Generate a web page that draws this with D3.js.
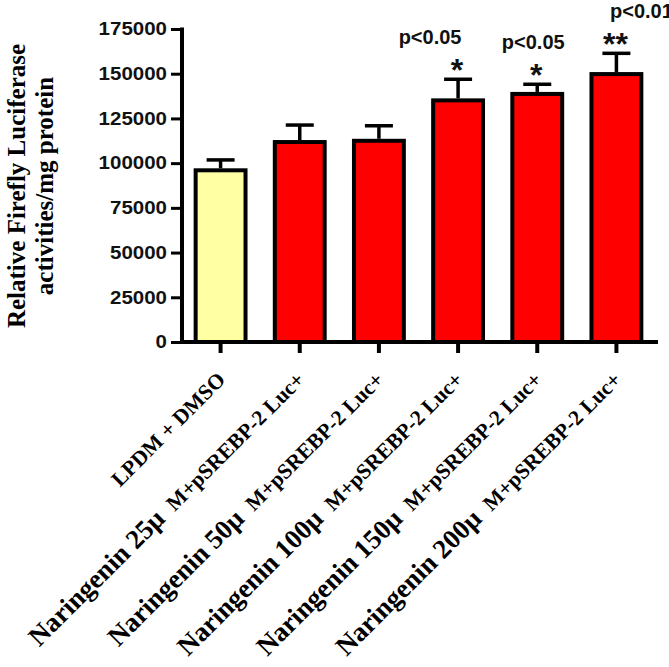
<!DOCTYPE html>
<html>
<head>
<meta charset="utf-8">
<style>
body { margin: 0; background: #fff; }
svg { display: block; }
.tick text { font-family: "Liberation Sans", Arial, sans-serif; font-weight: bold; }
</style>
</head>
<body>
<svg width="669" height="667"></svg>
<script src="https://cdn.jsdelivr.net/npm/d3@7"></script>
<script>
// data
var groups = ["LPDM + DMSO", "25", "50", "100", "150", "200"];
var means = [96000, 111800, 112500, 135100, 138700, 149800];
var errs = [5800, 9500, 8400, 11800, 5400, 11600];
var fills = ["#ffffa3", "#ff0000", "#ff0000", "#ff0000", "#ff0000", "#ff0000"];
var yTicks = [0, 25000, 50000, 75000, 100000, 125000, 150000, 175000];
// significance marks: [group index, p text, stars]
var marks = [[3, "p<0.05", "*"], [4, "p<0.05", "*"], [5, "p<0.01", "**"]];
var markDx = [-28, -4, 25];

var svg = d3.select("svg");

var x = d3.scaleBand()
  .domain(groups)
  .range([181, 656])
  .paddingInner(0.37)
  .paddingOuter(0.185);

var y = d3.scaleLinear()
  .domain([0, 175000])
  .range([342, 29]);

var serif = '"Liberation Serif", "Times New Roman", serif';
var sans = '"Liberation Sans", Arial, sans-serif';

// bars
svg.selectAll("rect.bar")
  .data(groups)
  .join("rect")
  .attr("class", "bar")
  .attr("x", function(d) { return x(d); })
  .attr("width", x.bandwidth())
  .attr("y", function(d, i) { return y(means[i]); })
  .attr("height", function(d, i) { return y(0) - y(means[i]); })
  .attr("fill", function(d, i) { return fills[i]; })
  .attr("stroke", "#000")
  .attr("stroke-width", 4);

// error bars (upper only)
var eb = svg.selectAll("g.err")
  .data(groups)
  .join("g")
  .attr("class", "err")
  .attr("stroke", "#000")
  .attr("stroke-width", 3.5);

eb.append("line")
  .attr("x1", function(d) { return x(d) + x.bandwidth() / 2; })
  .attr("x2", function(d) { return x(d) + x.bandwidth() / 2; })
  .attr("y1", function(d, i) { return y(means[i]) - 2; })
  .attr("y2", function(d, i) { return y(means[i] + errs[i]); });

eb.append("line")
  .attr("x1", function(d) { return x(d) + x.bandwidth() / 2 - 14; })
  .attr("x2", function(d) { return x(d) + x.bandwidth() / 2 + 14; })
  .attr("y1", function(d, i) { return y(means[i] + errs[i]); })
  .attr("y2", function(d, i) { return y(means[i] + errs[i]); });

// y axis
var yAxis = svg.append("g")
  .attr("transform", "translate(182,0)")
  .call(d3.axisLeft(y).tickValues(yTicks).tickSize(11).tickPadding(4).tickFormat(d3.format("d")));
yAxis.select(".domain").remove();
yAxis.selectAll(".tick line").attr("stroke", "#000").attr("stroke-width", 3);
yAxis.selectAll(".tick text")
  .attr("font-size", 18)
  .attr("fill", "#111")
  .attr("lengthAdjust", "spacingAndGlyphs")
  .attr("textLength", function(d) { return String(d).length * 11.4; });
yAxis.append("line")
  .attr("x1", 0).attr("x2", 0)
  .attr("y1", y(175000) - 1.5).attr("y2", y(0) + 2)
  .attr("stroke", "#000").attr("stroke-width", 4);

// x axis
var xAxis = svg.append("g")
  .attr("transform", "translate(0,342)")
  .call(d3.axisBottom(x).tickSize(11).tickFormat(""));
xAxis.select(".domain").remove();
xAxis.selectAll(".tick line").attr("stroke", "#000").attr("stroke-width", 4);
xAxis.append("line")
  .attr("x1", 180).attr("x2", 658)
  .attr("y1", 0).attr("y2", 0)
  .attr("stroke", "#000").attr("stroke-width", 4);

// x labels, rotated
var labels = svg.selectAll("text.xlab")
  .data(groups)
  .join("text")
  .attr("class", "xlab")
  .attr("font-family", serif)
  .attr("font-weight", "bold")
  .attr("text-anchor", "end")
  .attr("transform", function(d) {
    return "translate(" + (x(d) + x.bandwidth() / 2 + 6) + ",381) rotate(-45)";
  });

labels.each(function(d, i) {
  var t = d3.select(this);
  if (i === 0) {
    t.append("tspan").attr("font-size", 21.5).text(d);
  } else {
    t.append("tspan").attr("font-size", 27)
      .text("Naringenin " + d + "\u03bc");
    t.append("tspan").attr("font-size", 21.5).attr("dx", 12)
      .text("M+pSREBP-2 Luc+");
  }
});

// significance marks
marks.forEach(function(m, k) {
  var g = groups[m[0]];
  var cx = x(g) + x.bandwidth() / 2;
  var top = y(means[m[0]] + errs[m[0]]);
  svg.append("text")
    .attr("x", cx + markDx[k])
    .attr("y", top - 35)
    .attr("text-anchor", "middle")
    .attr("font-family", sans)
    .attr("font-weight", "bold")
    .attr("font-size", 20)
    .attr("fill", "#111")
    .text(m[1]);
  svg.append("text")
    .attr("x", cx - 1)
    .attr("y", top + 2)
    .attr("text-anchor", "middle")
    .attr("font-family", sans)
    .attr("font-weight", "bold")
    .attr("font-size", 32)
    .attr("fill", "#111")
    .text(m[2]);
});

// y title
var yt = svg.append("text")
  .attr("transform", "translate(0,186) rotate(-90)")
  .attr("text-anchor", "middle")
  .attr("font-family", serif)
  .attr("font-weight", "bold")
  .attr("font-size", 25);
yt.append("tspan").attr("x", 0).attr("y", 25).text("Relative Firefly Luciferase");
yt.append("tspan").attr("x", 0).attr("y", 53).text("activities/mg protein");
</script>
</body>
</html>
